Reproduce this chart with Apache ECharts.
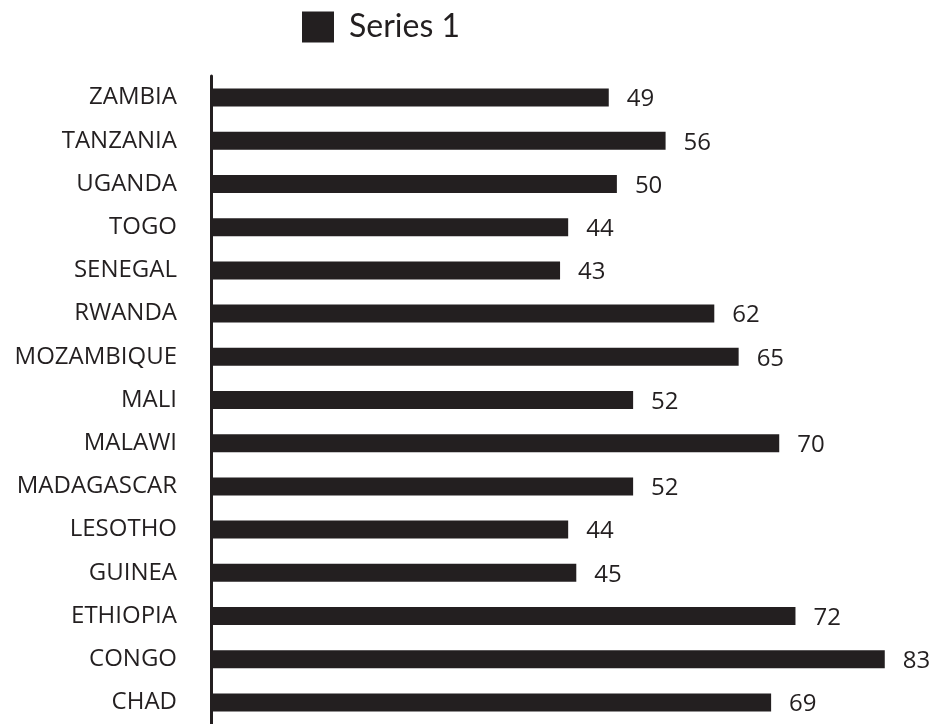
<!DOCTYPE html>
<html><head><meta charset="utf-8">
<script src="https://cdn.jsdelivr.net/npm/echarts@6/dist/echarts.min.js"></script>
<style>html,body{margin:0;padding:0;background:#fff}#c{width:936px;height:724px}</style>
</head><body><div id="c"></div>
<script>
const categories = ["ZAMBIA","TANZANIA","UGANDA","TOGO","SENEGAL","RWANDA","MOZAMBIQUE","MALI","MALAWI","MADAGASCAR","LESOTHO","GUINEA","ETHIOPIA","CONGO","CHAD"];
const series1 = [49,56,50,44,43,62,65,52,70,52,44,45,72,83,69];
const seriesName = "Series 1";
const ink = "#231f20";
const chart = echarts.init(document.getElementById('c'));
chart.setOption({
  animation: false,
  textStyle: {fontFamily: "'Open Sans'", color: ink},
  legend: {
    data: [seriesName], left: 297, top: 6, itemWidth: 32, itemHeight: 31,
    icon: 'rect',
    textStyle: {fontSize: 32, color: ink, fontFamily: "Lato", padding: [0,0,0,10]}
  },
  grid: {left: 211, right: 35, top: 76, bottom: -8, containLabel: false},
  xAxis: {type: 'value', min: 0, max: 85, show: false},
  yAxis: {
    type: 'category', data: categories, inverse: true, offset: 4,
    axisLine: {show: true, lineStyle: {color: ink, width: 3}},
    axisTick: {show: false},
    axisLabel: {fontSize: 24, color: ink, margin: 30, fontFamily: "'Open Sans'"}
  },
  series: [{
    name: seriesName, type: 'bar', data: series1, barWidth: 18,
    itemStyle: {color: ink},
    label: {show: true, position: 'right', distance: 18, fontSize: 24, color: ink, offset: [0, 2], fontFamily: "'Open Sans'"}
  }]
});
</script></body></html>
